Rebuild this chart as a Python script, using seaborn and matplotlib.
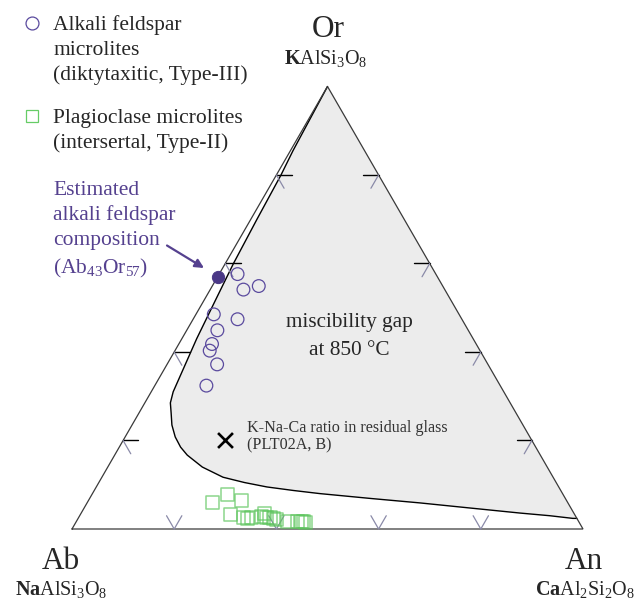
import numpy as np
import pandas as pd
import matplotlib
matplotlib.use("Agg")
import matplotlib.pyplot as plt
import seaborn as sns

# ---- compositions, mol% (Or, An); Ab = 100 - Or - An ----
# alkali feldspar microlites (diktytaxitic, Type-III)
afs_or = [57.6, 54.1, 54.9, 48.5, 47.4, 44.9, 41.8, 40.3, 37.2, 32.4]
afs_an = [3.6, 6.5, 9.1, 3.5, 8.7, 6.0, 6.5, 6.8, 9.8, 10.1]

# plagioclase microlites (intersertal, Type-II)
plg_or = [6.0, 7.7, 6.5, 3.2, 2.5, 2.4, 2.7, 2.9, 3.4, 2.5, 2.7, 2.4, 2.1, 1.7, 1.7, 1.7, 1.6, 1.5]
plg_an = [24.5, 26.5, 29.9, 29.5, 32.4, 33.2, 33.7, 35.7, 36.0, 36.8, 37.4, 38.2, 38.9, 41.4, 43.2, 44.1, 44.5, 44.9]

# estimated alkali feldspar composition (Ab43Or57)
est_or = [57.0]
est_an = [0.0]

# K-Na-Ca ratio in residual glass (PLT02A, B)
glass_or = [20.2]
glass_an = [19.8]

# boundary of the miscibility gap at 850 °C
gap_or = [100, 85.5, 80, 70, 60, 52, 43, 37, 31, 28.5, 26.2, 23.5, 20.8, 18.5, 16.7,
          14.0, 11.7, 10.5, 9.5, 8.7, 8.0, 6.9, 5.9, 4.8, 3.6, 3.0, 2.4, 2.4]
gap_an = [0, 0.5, 0.9, 1.2, 1.6, 2.2, 2.9, 3.6, 4.3, 5.0, 6.3, 7.8, 9.8, 12.0, 14.2,
          18.5, 23.7, 28.5, 33.4, 39.0, 44.5, 55.0, 65.1, 75.0, 85.9, 92.0, 96.8, 97.6]

tick_levels = [20, 40, 60, 80]

PURPLE = "#55418f"
GREEN = "#5cc45c"


def to_xy(or_pct, an_pct):
    o = np.asarray(or_pct, float) / 100.0
    a = np.asarray(an_pct, float) / 100.0
    return a + 0.5 * o, o * np.sqrt(3) / 2


def px(x, y):
    """Position in data units from a pixel offset (top-left origin)."""
    return (x - 72) / 511.0, (529 - y) / 511.0


sns.set_theme(style="white")
plt.rcParams["font.family"] = ["Liberation Serif", "DejaVu Serif"]
plt.rcParams["mathtext.fontset"] = "custom"
plt.rcParams["mathtext.rm"] = "Liberation Serif"
plt.rcParams["mathtext.it"] = "Liberation Serif:italic"
plt.rcParams["mathtext.bf"] = "Liberation Serif:bold"

fig = plt.figure(figsize=(6.38, 5.99), dpi=100)
ax = fig.add_axes([0, 0, 1, 1])
ax.set_xlim(-72 / 511.0, 566 / 511.0)
ax.set_ylim(-70 / 511.0, 529 / 511.0)
ax.axis("off")

# miscibility gap: shaded field and its boundary
gx, gy = to_xy(gap_or, gap_an)
ax.fill(gx, gy, color="#ececec", zorder=1, lw=0)
gap_df = pd.DataFrame({"x": gx, "y": gy})
sns.lineplot(data=gap_df, x="x", y="y", sort=False, estimator=None,
             color="black", lw=1.0, ax=ax, zorder=3)

# triangle frame
tx, ty = to_xy([0, 100, 0, 0], [0, 0, 100, 0])
ax.plot(tx, ty, color="#3a3a3a", lw=0.9, zorder=4, solid_joinstyle="miter")

# edge ticks
L = 3.0
GRAY = "#8a8aa8"
for v in tick_levels:
    # Ab-Or edge
    x0, y0 = to_xy([v], [0])
    x1, y1 = to_xy([v], [L])
    ax.plot([x0[0], x1[0]], [y0[0], y1[0]], color="black", lw=1.0, zorder=4)
    x1, y1 = to_xy([v - L], [L])
    ax.plot([x0[0], x1[0]], [y0[0], y1[0]], color=GRAY, lw=0.9, zorder=4)
    # Or-An edge
    x0, y0 = to_xy([v], [100 - v])
    x1, y1 = to_xy([v], [100 - v - L])
    ax.plot([x0[0], x1[0]], [y0[0], y1[0]], color="black", lw=1.0, zorder=4)
    x1, y1 = to_xy([v - L], [100 - v])
    ax.plot([x0[0], x1[0]], [y0[0], y1[0]], color=GRAY, lw=0.9, zorder=4)
    # Ab-An edge
    x0, y0 = to_xy([0], [v])
    x1, y1 = to_xy([L], [v])
    ax.plot([x0[0], x1[0]], [y0[0], y1[0]], color=GRAY, lw=0.9, zorder=4)
    x1, y1 = to_xy([L], [v - L])
    ax.plot([x0[0], x1[0]], [y0[0], y1[0]], color=GRAY, lw=0.9, zorder=4)

# data points
ax_, ay_ = to_xy(afs_or, afs_an)
sns.scatterplot(x=ax_, y=ay_, marker="o", s=84, facecolor="none",
                edgecolor="#5a4a9e", linewidth=0.9, ax=ax, zorder=5)
px_, py_ = to_xy(plg_or, plg_an)
sns.scatterplot(x=px_, y=py_, marker="s", s=88, facecolor="none",
                edgecolor=GREEN, linewidth=1.1, alpha=0.7, ax=ax, zorder=5)
ex, ey = to_xy(est_or, est_an)
sns.scatterplot(x=ex, y=ey, marker="o", s=78, color="#4a3886",
                edgecolor="#4a3886", ax=ax, zorder=6)
cx, cy = to_xy(glass_or, glass_an)
sns.scatterplot(x=cx, y=cy, marker="x", s=115, color="black",
                linewidth=1.9, ax=ax, zorder=6)

# vertex labels
ax.text(*px(328, 37), "Or", fontsize=22.5, ha="center", va="baseline")
ax.text(*px(326, 64), r"$\mathbf{K}\mathrm{AlSi_3O_8}$", fontsize=14.5,
        ha="center", va="baseline")
ax.text(*px(61, 569), "Ab", fontsize=22.5, ha="center", va="baseline")
ax.text(*px(61, 595), r"$\mathbf{Na}\mathrm{AlSi_3O_8}$", fontsize=14.5,
        ha="center", va="baseline")
ax.text(*px(584, 569), "An", fontsize=22.5, ha="center", va="baseline")
ax.text(*px(585, 595), r"$\mathbf{Ca}\mathrm{Al_2Si_2O_8}$", fontsize=14.5,
        ha="center", va="baseline")

# field labels
ax.text(*px(349, 327), "miscibility gap", fontsize=15.3, ha="center", va="baseline")
ax.text(*px(349, 355), "at 850 \u00b0C", fontsize=15.3, ha="center", va="baseline")
ax.text(*px(247, 432), "K-Na-Ca ratio in residual glass", fontsize=11.6,
        color="#333333", ha="left", va="baseline")
ax.text(*px(247, 449.5), "(PLT02A, B)", fontsize=11.6,
        color="#333333", ha="left", va="baseline")

# legend
ax.plot(*px(32, 23), marker="o", ms=9.3, mfc="none", mec="#5a4a9e", mew=0.9)
for txt, yb in [("Alkali feldspar", 30), ("microlites", 55),
                ("(diktytaxitic, Type-III)", 80)]:
    ax.text(*px(53, yb), txt, fontsize=15.5, ha="left", va="baseline")
ax.plot(*px(32, 116), marker="s", ms=9.0, mfc="none", mec="#66cc66", mew=0.9)
for txt, yb in [("Plagioclase microlites", 123), ("(intersertal, Type-II)", 148)]:
    ax.text(*px(53, yb), txt, fontsize=15.5, ha="left", va="baseline")

# annotation of the estimated composition
for txt, yb in [("Estimated", 195), ("alkali feldspar", 220),
                ("composition", 245),
                (r"(Ab$_{\mathrm{43}}$Or$_{\mathrm{57}}$)", 273)]:
    ax.text(*px(53, yb), txt, fontsize=15.5, color=PURPLE, ha="left", va="baseline")
ax.annotate("", xy=px(204, 268), xytext=px(167, 245.5),
            arrowprops=dict(arrowstyle="-|>", color=PURPLE, lw=1.6,
                            mutation_scale=13, shrinkA=0, shrinkB=0))

fig.savefig("out.png", dpi=100)
